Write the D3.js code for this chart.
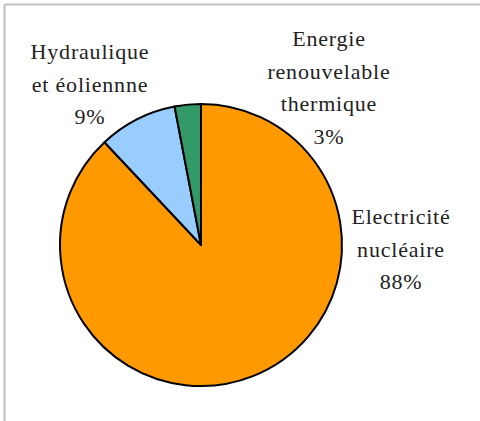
<!DOCTYPE html>
<html>
<head>
<meta charset="utf-8">
<script src="https://cdn.jsdelivr.net/npm/d3@7"></script>
<style>
  html, body { margin: 0; padding: 0; background: #fff; }
  #chart { position: relative; width: 480px; height: 421px; }
  svg { display: block; position: absolute; left: 0; top: 0; }
  #chart div.lbl, #chart div.lbl * {
    position: absolute;
    font-family: "Liberation Serif", "Times New Roman", serif !important;
    font-size: 22px;
    letter-spacing: 0.8px;
    color: #222;
    white-space: nowrap;
    transform: translateX(-50%);
    text-align: center;
  }
</style>
</head>
<body>
<div id="chart"></div>
<script>
// données (ordre horaire depuis midi)
const categories = [
  ["Electricité", "nucléaire"],
  ["Hydraulique", "et éoliennne"],
  ["Energie", "renouvelable", "thermique"]
];
const values = [88, 9, 3];
const percentLabels = ["88%", "9%", "3%"];
const colors = ["#FF9900", "#99CCFF", "#339966"];

const width = 480, height = 421;
const cx = 201, cy = 245, radius = 141;

// position des étiquettes (centre du bloc, 1re ligne de base)
const labelPos = [
  { x: 401, y: 224 },
  { x: 90,  y: 59 },
  { x: 329, y: 46 }
];
const lineH = 32.5;

const chart = d3.select("#chart");
const svg = chart.append("svg")
  .attr("width", width)
  .attr("height", height);

// cadre gris (haut et gauche)
svg.append("line")
  .attr("x1", 4.5).attr("y1", 4.5).attr("x2", width).attr("y2", 4.5)
  .attr("stroke", "#c0c0c0").attr("stroke-width", 2);
svg.append("line")
  .attr("x1", 4.5).attr("y1", 4.5).attr("x2", 4.5).attr("y2", height)
  .attr("stroke", "#c0c0c0").attr("stroke-width", 2);

const pie = d3.pie().sort(null).value(d => d);
const arc = d3.arc().innerRadius(0).outerRadius(radius);

const g = svg.append("g").attr("transform", `translate(${cx},${cy})`);

g.selectAll("path")
  .data(pie(values))
  .enter()
  .append("path")
  .attr("d", arc)
  .attr("fill", (d, i) => colors[i])
  .attr("stroke", "#000")
  .attr("stroke-width", 2)
  .attr("stroke-linejoin", "round");

// étiquettes en HTML (ligne de base ~ 20px sous le haut de la boîte)
categories.forEach((lines, i) => {
  const all = lines.concat([percentLabels[i]]);
  all.forEach((s, j) => {
    chart.append("div")
      .attr("class", "lbl")
      .attr("style", "font-family:'Liberation Serif',serif !important")
      .style("left", labelPos[i].x + "px")
      .style("top", (labelPos[i].y + j * lineH - 20) + "px")
      .style("line-height", "25px")
      .text(s);
  });
});
</script>
</body>
</html>
